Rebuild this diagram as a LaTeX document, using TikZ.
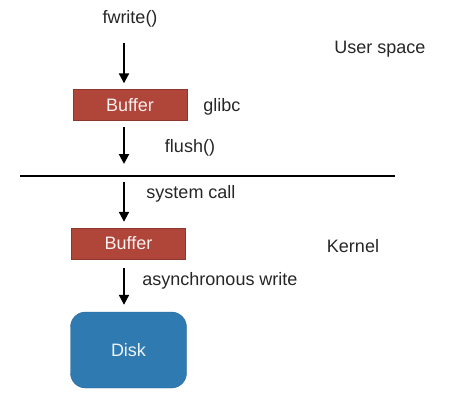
\documentclass[tikz,border=0pt]{standalone}
\usepackage{fontspec}
\setmainfont{Liberation Sans}
\usetikzlibrary{arrows.meta}
\definecolor{bufred}{HTML}{B0453A}
\definecolor{diskblue}{HTML}{2F7AB0}
\tikzset{
    buffer/.style={draw=bufred!80!black, fill=bufred, text=white!92!bufred, minimum width=114pt, minimum height=31pt, inner sep=0pt},
    disk/.style={draw=diskblue!85!black, fill=diskblue, text=white!92!diskblue, rounded corners=15pt, minimum width=116pt, minimum height=76pt, inner sep=0pt},
    flow/.style={-{Triangle[length=10pt,width=10pt]}, line width=2pt},
    label/.style={text=black!85, inner sep=0pt}
}
\begin{document}
\begin{tikzpicture}[x=1pt, y=-1pt, font=\fontsize{18}{21}\selectfont]
    \useasboundingbox (0,0) rectangle (451,405);
    % Nodes
    \node[label] (fwrite) at (130,19) {fwrite()};
    \node[label] (user) at (380,49) {User space};
    \node[buffer] (buf1) at (130,105) {Buffer};
    \node[label] (glibc) at (222,107) {glibc};
    \node[label] (flush) at (190,148) {flush()};
    \coordinate (lineL) at (20,176);
    \coordinate (lineR) at (395,176);
    \coordinate (cross) at (124,176);
    \node[label] (syscall) at (191,194) {system call};
    \node[buffer] (buf2) at (128.5,243.5) {Buffer};
    \node[label] (kernel) at (353,246) {Kernel};
    \node[label] (async) at (220,281) {asynchronous write};
    \node[disk] (disk) at (128.5,350) {Disk};

    % Arrows
    \draw[flow, shorten <=15pt, shorten >=6pt] ([xshift=-6pt]fwrite.south) -- ([xshift=-6pt]buf1.north);
    \draw[flow, shorten <=6pt, shorten >=12pt] ([xshift=-6pt]buf1.south) -- (cross);
    \draw[line width=1.5pt] (lineL) -- (lineR);
    \draw[flow, shorten <=6pt, shorten >=6pt] (cross) -- ([xshift=-4.5pt]buf2.north);
    \draw[flow, shorten <=9pt, shorten >=7pt] ([xshift=-4.5pt]buf2.south) -- ([xshift=-4.5pt]disk.north);
\end{tikzpicture}
\end{document}
